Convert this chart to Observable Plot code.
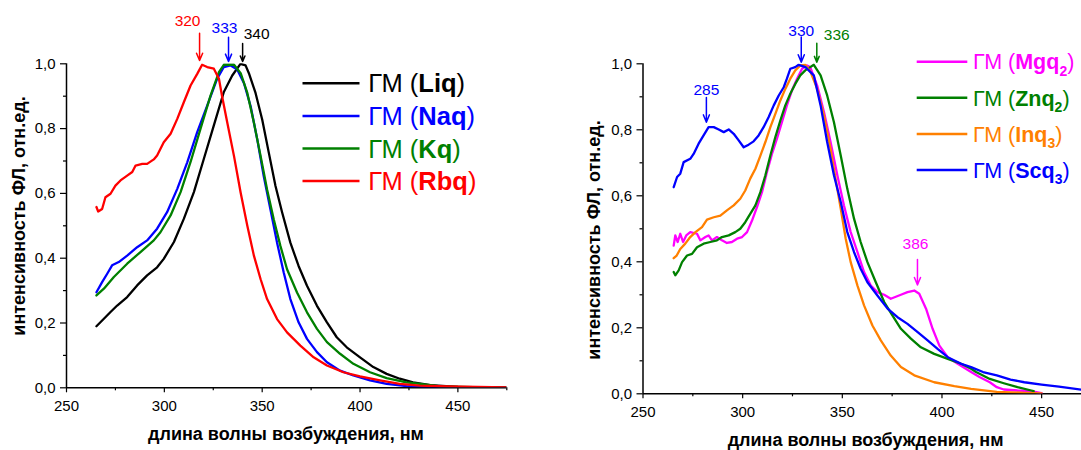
<!DOCTYPE html>
<html>
<head>
<meta charset="utf-8">
<script src="https://cdn.jsdelivr.net/npm/d3@7"></script>
<script src="https://cdn.jsdelivr.net/npm/@observablehq/plot@0.6"></script>
<style>
  html, body { margin: 0; padding: 0; background: #fff; }
  #wrap { position: relative; width: 1081px; height: 450px; overflow: hidden; }
  .panel { position: absolute; top: 0; }
  .panel svg { overflow: visible; }
</style>
</head>
<body>
<div id="wrap"><div class="panel" id="left" style="left:0"></div><div class="panel" id="right" style="left:541px"></div></div>
<script>
// ---------------- DATA ----------------
// Left panel: [wavelength nm, normalised intensity]
const liq = [[265.3,0.19],[269.1,0.213],[272.5,0.234],[275.9,0.254],[281,0.28],[286.1,0.316],[291.2,0.347],[296.3,0.372],[299.7,0.398],[304.9,0.45],[310,0.522],[315.1,0.604],[320.2,0.707],[325.3,0.81],[330.4,0.913],[334.7,0.964],[338.9,1.0],[341.5,0.995],[343.2,0.971],[346.6,0.91],[350,0.828],[353.4,0.725],[356.8,0.623],[360.2,0.541],[364.4,0.448],[368.6,0.376],[372.9,0.315],[378,0.253],[383.1,0.202],[388.1,0.156],[393.2,0.125],[400,0.094],[406.8,0.064],[413.6,0.043],[420.3,0.028],[427.1,0.017],[436,0.008],[450,0.003],[475,0.001]];
const naq = [[265.3,0.295],[268.2,0.326],[270.8,0.352],[273.3,0.378],[276.7,0.388],[281,0.408],[286.1,0.434],[291.2,0.455],[296.3,0.491],[301.4,0.542],[306.6,0.614],[311.7,0.696],[316.8,0.789],[321.9,0.871],[327,0.954],[330.4,0.99],[333.9,0.995],[337.3,0.982],[340.7,0.94],[344.1,0.869],[347.5,0.766],[350.8,0.653],[354.2,0.551],[357.6,0.448],[361,0.356],[364.4,0.274],[368.6,0.202],[372.9,0.151],[378,0.11],[383.1,0.079],[389.8,0.053],[396.6,0.038],[405.1,0.023],[413.6,0.012],[423.7,0.005],[436,0.002],[475,0]];
const kq = [[265.3,0.285],[269.1,0.306],[274.2,0.342],[281,0.383],[287.8,0.419],[294.6,0.455],[298,0.48],[303.2,0.532],[308.3,0.604],[313.4,0.697],[318.5,0.8],[323.6,0.902],[327.9,0.974],[330.4,0.997],[335.6,0.997],[339,0.971],[342.4,0.91],[345.8,0.817],[349.2,0.715],[352.5,0.612],[355.9,0.52],[359.3,0.438],[362.7,0.366],[367.8,0.294],[372.9,0.233],[378,0.182],[383.1,0.141],[389.8,0.105],[396.6,0.074],[405.1,0.048],[413.6,0.03],[423.7,0.017],[430.5,0.012],[441,0.004],[475,0]];
const rbq = [[265.3,0.558],[266.2,0.544],[268.2,0.552],[269.9,0.588],[272.5,0.599],[275,0.624],[277.6,0.64],[281,0.655],[283.6,0.666],[285.3,0.686],[288.7,0.691],[291.2,0.691],[294.6,0.705],[296.3,0.717],[299.7,0.758],[303.2,0.784],[306.6,0.83],[310,0.882],[313.4,0.933],[316.8,0.969],[319.3,0.997],[321.9,0.99],[325.3,0.985],[327.9,0.954],[329.5,0.9],[332.2,0.817],[335.6,0.715],[339,0.602],[342.4,0.5],[345.8,0.407],[349.2,0.335],[352.5,0.274],[357.6,0.212],[362.7,0.171],[369.5,0.13],[376.3,0.094],[383.1,0.069],[391.5,0.048],[400,0.035],[410.2,0.023],[420.3,0.012],[430.5,0.007],[445,0.004],[475,0.001]];

// Right panel
const mgq2 = [[265.4,0.449],[266.2,0.48],[267.4,0.46],[268.7,0.485],[270.1,0.46],[271.7,0.48],[273.7,0.49],[277.1,0.485],[278.8,0.465],[281.3,0.475],[282.9,0.48],[284.6,0.465],[287.1,0.475],[289.6,0.465],[292.1,0.457],[294.6,0.46],[297.2,0.47],[299.7,0.475],[302.2,0.49],[304.7,0.525],[307.2,0.566],[309.7,0.611],[312.2,0.672],[314.7,0.727],[317.2,0.773],[319.7,0.823],[322.2,0.874],[324.7,0.919],[327.3,0.955],[329.8,0.985],[332.3,0.995],[333.9,0.99],[337.4,0.934],[340.8,0.854],[344.1,0.763],[347.5,0.662],[350.8,0.571],[354.2,0.49],[357.6,0.429],[360.9,0.369],[364.3,0.328],[367.6,0.308],[371,0.3],[374.3,0.288],[379.4,0.3],[382.7,0.308],[386.1,0.313],[388.6,0.303],[392,0.258],[395.3,0.197],[398.7,0.146],[402.9,0.111],[407.9,0.091],[414.6,0.066],[418.8,0.051],[424,0.035],[427.5,0.02],[431,0.013],[437.9,0.01],[444.8,0.008],[450,0.002]];
const znq2 = [[265.4,0.369],[266.2,0.359],[267.9,0.374],[269.6,0.399],[272.1,0.419],[274.6,0.424],[277.1,0.444],[280.4,0.455],[283.8,0.46],[287.1,0.465],[289.6,0.475],[293,0.48],[296.3,0.49],[298.8,0.5],[301.3,0.52],[303.8,0.545],[306.4,0.571],[308.9,0.611],[311.4,0.662],[313.9,0.722],[316.4,0.778],[318.9,0.828],[321.4,0.874],[323.9,0.909],[326.4,0.939],[328.9,0.965],[331.4,0.98],[333.9,0.99],[335.7,0.997],[339.1,0.965],[342.4,0.904],[345.8,0.823],[349.2,0.722],[352.5,0.621],[355.9,0.53],[359.2,0.46],[362.6,0.399],[366.8,0.338],[371,0.278],[375.2,0.237],[379.4,0.197],[384.4,0.167],[389.4,0.141],[396.1,0.121],[402.9,0.106],[409.6,0.091],[414.6,0.076],[417.1,0.066],[424,0.045],[431,0.032],[437.9,0.02],[444.8,0.01],[446,0.008]];
const inq3 = [[265.4,0.411],[266.9,0.419],[268.7,0.439],[271.2,0.455],[273.7,0.475],[276.3,0.49],[279.6,0.505],[282.1,0.528],[285.5,0.535],[288.8,0.54],[292.1,0.556],[295.5,0.571],[298.8,0.591],[301.3,0.616],[303.8,0.652],[306.4,0.682],[308.9,0.722],[311.4,0.763],[313.9,0.808],[316.4,0.848],[318.9,0.889],[321.4,0.924],[323.9,0.955],[326.4,0.98],[328.9,0.995],[331.4,0.997],[334.1,0.975],[337.4,0.924],[340.8,0.843],[344.1,0.742],[346.6,0.652],[349.2,0.561],[351.7,0.47],[354.2,0.399],[357.6,0.328],[360.9,0.268],[365.1,0.207],[369.3,0.162],[374.3,0.116],[379.4,0.081],[386.1,0.056],[396.1,0.035],[406.2,0.023],[414.6,0.015],[427.5,0.006],[441.3,0.003],[450,0.001]];
const scq3 = [[265.4,0.626],[267.1,0.657],[268.7,0.667],[270.4,0.702],[273.7,0.712],[275.4,0.727],[277.9,0.758],[280.4,0.783],[282.9,0.808],[285.5,0.808],[288,0.801],[290.5,0.793],[293,0.801],[295.5,0.788],[298,0.768],[300.5,0.747],[303,0.755],[305.5,0.765],[308,0.783],[310.5,0.808],[313,0.838],[315.6,0.874],[318.1,0.904],[320.6,0.929],[322.2,0.955],[323.9,0.985],[326.4,0.99],[328.1,0.997],[331.5,0.99],[335.7,0.965],[339.1,0.874],[342.4,0.763],[345.8,0.662],[349.2,0.581],[352.5,0.49],[355.9,0.429],[359.2,0.379],[362.6,0.338],[367.6,0.298],[372.7,0.258],[377.7,0.232],[382.7,0.212],[387.8,0.187],[392.8,0.162],[397.8,0.136],[402.9,0.111],[409.6,0.091],[414.6,0.081],[420.6,0.066],[427.5,0.056],[434.4,0.043],[441.3,0.035],[450,0.028],[458.7,0.022],[470.4,0.012],[480,0.008]];

// Peak annotations: wavelength under the arrow and its label
const peaksLeft  = [[318,"320"],[332.8,"333"],[340,"340"]];
const peaksRight = [[281.8,"285"],[329.4,"330"],[337.2,"336"],[387.7,"386"]];

// Ticks
const xMajor = [250,300,350,400,450];
const xMinorLeft = [275,325,375,425,475];
const xMinorRight = [275,325,375,425];
const yMajor = [0,0.2,0.4,0.6,0.8,1.0];
const yMinor = [0.1,0.3,0.5,0.7,0.9];

// Legend names [compound, subscript]
const namesLeft  = [["Liq",""],["Naq",""],["Kq",""],["Rbq",""]];
const namesRight = [["Mgq","2"],["Znq","2"],["Inq","3"],["Scq","3"]];

// ---------------- STYLE ----------------
const FONT = "'Liberation Sans', Arial, Helvetica, sans-serif";
const C = {black:"#000000", blue:"#0000ff", green:"#008000", red:"#ff0000", magenta:"#ff00ff", orange:"#ff8000"};

const leftSeries  = [[liq,C.black],[naq,C.blue],[kq,C.green],[rbq,C.red]];
const rightSeries = [[mgq2,C.magenta],[znq2,C.green],[inq3,C.orange],[scq3,C.blue]];

// annotation layout: [y top of arrow, y tip, y of label, label dx px, colour]
const annLeftLayout  = [[1.094,1.010,1.131,-12,C.red],[1.082,1.007,1.111,-4,C.blue],[1.063,1.007,1.093,14,C.black]];
const annRightLayout = [[0.898,0.823,0.921,0,C.blue],[1.081,1.005,1.099,0,C.blue],[1.062,1.005,1.088,20,C.green],[0.407,0.330,0.453,-2,C.magenta]];

function panel(o) {
  const marks = [
    Plot.axisX({ticks: xMajor, tickSize: 5, tickPadding: 8, tickFormat: d => String(d), label: null, fontSize: 15, strokeWidth: 1.2}),
    Plot.axisX({ticks: o.xMinor, tickSize: 3, tickFormat: () => "", label: null, strokeWidth: 1.2}),
    Plot.axisY({ticks: yMajor, tickSize: 6, tickPadding: 5, tickFormat: d => d.toFixed(1).replace(".", ","), label: null, fontSize: 15, strokeWidth: 1.2}),
    Plot.axisY({ticks: yMinor, tickSize: 3, tickFormat: () => "", label: null, strokeWidth: 1.2}),
    Plot.ruleY([0], {stroke: "#000", strokeWidth: 1.5}),
    Plot.ruleX([250], {y1: 0, y2: 1, stroke: "#000", strokeWidth: 1.5}),
    ...o.series.map(([data, color]) => Plot.line(data, {x: d => d[0], y: d => d[1], stroke: color, strokeWidth: 2.3, clip: true})),
    ...o.peaks.map((p, i) => {
      const [y1, y2, ty, dx, color] = o.ann[i];
      return [
        Plot.arrow([p], {x1: d => d[0], x2: d => d[0], y1: () => y1, y2: () => y2, stroke: color, strokeWidth: 1.5, headLength: 8, headAngle: 45}),
        Plot.text([p], {x: d => d[0], y: () => ty, text: d => d[1], fill: color, fontSize: 15.5, dx, textAnchor: "middle"})
      ];
    }).flat()
  ];
  const svg = Plot.plot({
    width: 540, height: 450,
    marginLeft: o.ml, marginRight: o.mr, marginTop: o.mt, marginBottom: o.mb,
    x: {domain: o.xDomain},
    y: {domain: [0, 1]},
    style: {fontFamily: FONT, fontSize: "15px", color: "#000", background: "transparent", overflow: "visible"},
    marks
  });
  const s = d3.select(svg);
  // axis titles
  s.append("text").attr("transform", `translate(${o.yLab[0]},${o.yLab[1]}) rotate(-90)`)
    .attr("text-anchor", "middle").attr("font-weight", "bold").attr("font-size", 18).attr("fill", "#000")
    .attr("font-family", FONT).text("интенсивность ФЛ, отн.ед.");
  s.append("text").attr("x", o.xLab[0]).attr("y", o.xLab[1])
    .attr("text-anchor", "middle").attr("font-weight", "bold").attr("font-size", 18).attr("fill", "#000")
    .attr("font-family", FONT).text("длина волны возбуждения, нм");
  // legend
  const g = s.append("g").attr("font-family", FONT).attr("text-anchor", "start");
  o.names.forEach(([name, sub], i) => {
    const color = o.series[i][1];
    const y = o.leg.y0 + i * o.leg.dy;
    g.append("line").attr("x1", o.leg.x1).attr("x2", o.leg.x2).attr("y1", y).attr("y2", y)
      .attr("stroke", color).attr("stroke-width", 2.5);
    const t = g.append("text").attr("x", o.leg.tx).attr("y", y + 0.36 * o.leg.fs)
      .attr("text-anchor", "start").attr("fill", color).attr("font-size", o.leg.fs);
    t.append("tspan").text("ГМ (");
    t.append("tspan").attr("font-weight", "bold").text(name);
    if (sub) {
      t.append("tspan").attr("font-weight", "bold").attr("font-size", o.leg.fs * 0.65).attr("dy", o.leg.fs * 0.3).text(sub);
      t.append("tspan").attr("dy", -o.leg.fs * 0.3).text(")");
    } else {
      t.append("tspan").text(")");
    }
  });
  return svg;
}

document.getElementById("left").appendChild(panel({
  series: leftSeries, peaks: peaksLeft, ann: annLeftLayout, names: namesLeft,
  xDomain: [250, 475], xMinor: xMinorLeft, ml: 66, mr: 33.7, mt: 63.3, mb: 62.7,
  yLab: [25, 216], xLab: [286, 440],
  leg: {x1: 302.5, x2: 359.5, tx: 368.3, y0: 83.3, dy: 32.6, fs: 25.5}
}));
document.getElementById("right").appendChild(panel({
  series: rightSeries, peaks: peaksRight, ann: annRightLayout, names: namesRight,
  xDomain: [250, 470], xMinor: xMinorRight, ml: 101.5, mr: 0, mt: 63.3, mb: 56.7,
  yLab: [58.5, 240], xLab: [324.6, 446],
  leg: {x1: 375.7, x2: 426.3, tx: 432, y0: 61.7, dy: 36.1, fs: 21.5}
}));
</script>
</body>
</html>
